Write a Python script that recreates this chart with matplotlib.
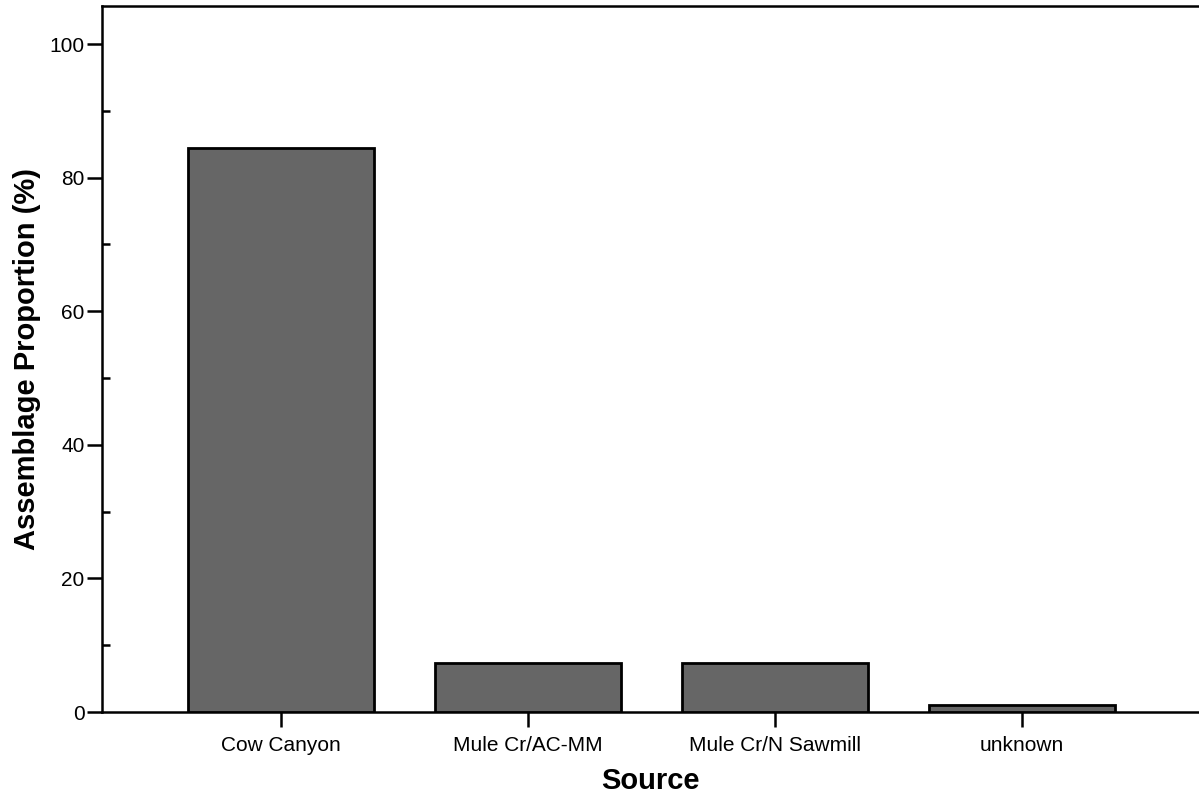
import matplotlib
matplotlib.use("Agg")
import matplotlib.pyplot as plt
from matplotlib.ticker import MultipleLocator

categories = ["Cow Canyon", "Mule Cr/AC-MM", "Mule Cr/N Sawmill", "unknown"]
values = [84.375, 7.29, 7.29, 1.04]

plt.rcParams['font.family'] = ['Liberation Sans', 'DejaVu Sans']

fig = plt.figure(figsize=(11.99, 7.98), dpi=100)
ax = fig.add_axes([102/1199, 1-712/798, 1-102/1199, (712-6)/798])

x = list(range(len(categories)))
ax.bar(x, values, width=0.755, color="#666666", edgecolor="black", linewidth=2, zorder=3)

ax.set_xlim(-0.725, 3.717)
ax.set_ylim(0, 105.7)
ax.set_xticks(x)
ax.set_xticklabels(categories, fontsize=15)
ax.yaxis.set_major_locator(MultipleLocator(20))
ax.yaxis.set_minor_locator(MultipleLocator(10))
ax.tick_params(axis='y', which='major', direction='out', length=10.5, width=1.8, labelsize=15, pad=2)
ax.tick_params(axis='y', which='minor', direction='in', length=6, width=1.8)
ax.tick_params(axis='x', which='major', direction='out', length=11, width=1.8, pad=6)

for s in ['left', 'bottom', 'top']:
    ax.spines[s].set_linewidth(1.8)
ax.spines['right'].set_visible(False)

ax.set_xlabel("Source", fontsize=21, fontweight='bold', labelpad=9)
ax.set_ylabel("Assemblage Proportion (%)", fontsize=21, fontweight='bold', labelpad=6)

fig.savefig("out.png", dpi=100)
